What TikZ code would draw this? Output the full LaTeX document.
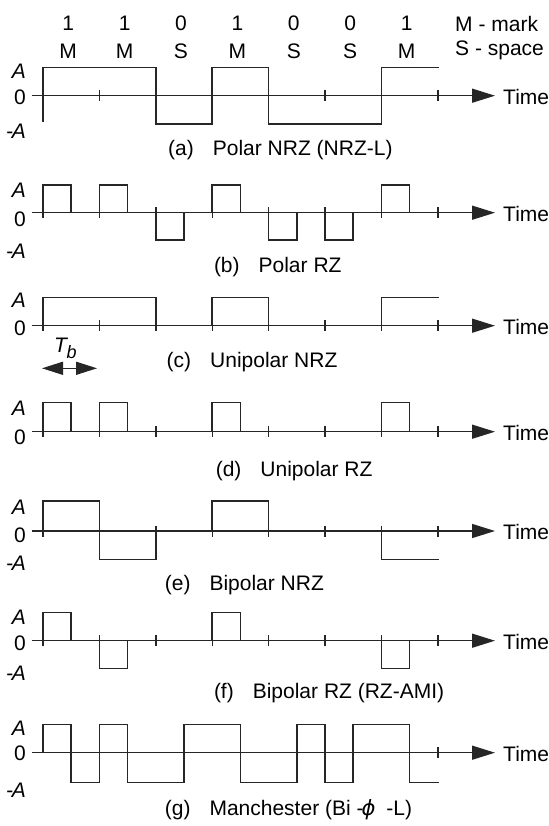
\documentclass[tikz,border=0pt]{standalone}
\usepackage{fontspec}
\setmainfont{Liberation Sans}
\newfontfamily\greekfont{DejaVu Sans}
\usetikzlibrary{arrows.meta}

% tick mark on the time axis: #1 = axis y, #2 = list of half-bit positions
\newcommand{\axticks}[2]{\foreach \k in {#2} \draw[tickmark] (\k,#1-5.5) -- (\k,#1+5.5);}
% half-bit return-to-zero pulse: #1 = start (half-bit index), #2 = axis y, #3 = level y
\newcommand{\rzpulse}[3]{\draw[sig] (#1,#2) -- (#1,#3) -- (#1+1,#3) -- (#1+1,#2);}

\begin{document}
\begin{tikzpicture}[x=1pt,y=-1pt,
  sig/.style={line width=1.5pt, draw=black!85, line join=miter, line cap=rect},
  tickmark/.style={line width=1.4pt, draw=black!85},
  axisline/.style={line width=1.4pt, draw=black!85, -{Triangle[length=23pt,width=14pt]}},
  dimarrow/.style={line width=1.4pt, draw=black!85,
    {Triangle[length=21pt,width=13pt]}-{Triangle[length=21pt,width=13pt]}},
  txt/.style={font=\fontsize{21}{24}\selectfont, inner sep=0pt, text=black},
  lvl/.style={txt, anchor=base east},
  captxt/.style={txt, anchor=base west},
  bitlbl/.style={txt, anchor=base},
  signal/.style={xshift=43pt, x=28.2pt},
]
\useasboundingbox (0,0) rectangle (548,826);

% ---------- bit sequence header ----------
\foreach \b/\s [count=\i from 0] in {1/M,1/M,0/S,1/M,0/S,0/S,1/M}{
  \node[bitlbl] (bit\i) at ({68.2+56.4*\i},31) {\b};
  \node[bitlbl] (sym\i) at ({68.2+56.4*\i},58.5) {\s};
}
\node[captxt] (keyM) at (455,31.5) {M - mark};
\node[captxt] (keyS) at (455,56) {S - space};

% ---------- time axes ----------
\foreach \name/\y in {a/95.7,b/212.7,c/325.7,d/431.7,e/531,f/640.7,g/752.7}{
  \coordinate (ax\name s) at (31.7,\y);
  \coordinate (ax\name e) at (495,\y);
  \draw[axisline] (ax\name s) -- (ax\name e);
  \node[captxt] (time\name) at (503,\y+8.5) {Time};
}

% ---------- (a) polar NRZ ----------
\begin{scope}[signal]
  \draw[sig] (0,121.7) -- (0,67.7) -- (4,67.7) -- (4,124) -- (6,124) -- (6,67.7)
    -- (8,67.7) -- (8,124) -- (12,124) -- (12,67.7) -- (14,67.7);
  \axticks{95.7}{2,10,14}
\end{scope}
\node[lvl] (aA) at (26,78.5) {\itshape A};
\node[lvl] (a0) at (26,105) {0};
\node[lvl] (aN) at (26,138.5) {-\kern-1.5pt\itshape A};
\node[captxt] (capa) at (168,155.5) {(a)\hspace{19pt}Polar NRZ (NRZ-L)};

% ---------- (b) polar RZ ----------
\begin{scope}[signal]
  \rzpulse{0}{212.7}{185}
  \rzpulse{2}{212.7}{185}
  \rzpulse{4}{212.7}{240}
  \rzpulse{6}{212.7}{185}
  \rzpulse{8}{212.7}{240}
  \rzpulse{10}{212.7}{240}
  \rzpulse{12}{212.7}{185}
  \axticks{212.7}{0,2,...,14}
\end{scope}
\node[lvl] (bA) at (26,197.5) {\itshape A};
\node[lvl] (b0) at (26,226.5) {0};
\node[lvl] (bN) at (26,258.5) {-\kern-1.5pt\itshape A};
\node[captxt] (capb) at (213.8,272.5) {(b)\hspace{19pt}Polar RZ};

% ---------- (c) unipolar NRZ ----------
\begin{scope}[signal]
  \draw[sig] (0,325.7) -- (0,297.3) -- (4,297.3) -- (4,325.7);
  \draw[sig] (6,325.7) -- (6,297.3) -- (8,297.3) -- (8,325.7);
  \draw[sig] (12,325.7) -- (12,297.3) -- (14,297.3);
  \axticks{325.7}{0,2,...,14}
\end{scope}
\node[lvl] (cA) at (26,307.5) {\itshape A};
\node[lvl] (c0) at (26,335.5) {0};
\node[captxt] (capc) at (166.5,367) {(c)\hspace{19pt}Unipolar NRZ};

% bit period marker
\node[txt, anchor=base west] (tb) at (54,352)
  {\itshape T\kern-0.5pt\raisebox{-6pt}{\fontsize{18}{20}\selectfont b}};
\coordinate (tbL) at (42,368.3);
\coordinate (tbR) at (97,368.3);
\draw[dimarrow] (tbL) -- (tbR);

% ---------- (d) unipolar RZ ----------
\begin{scope}[signal]
  \rzpulse{0}{431.7}{402.7}
  \rzpulse{2}{431.7}{402.7}
  \rzpulse{6}{431.7}{402.7}
  \rzpulse{12}{431.7}{402.7}
  \axticks{431.7}{0,2,...,14}
\end{scope}
\node[lvl] (dA) at (26,415.5) {\itshape A};
\node[lvl] (d0) at (26,444.2) {0};
\node[captxt] (capd) at (215.6,476.5) {(d)\hspace{19pt}Unipolar RZ};

% ---------- (e) bipolar NRZ ----------
\begin{scope}[signal]
  \draw[sig] (0,531) -- (0,501) -- (2,501) -- (2,559.3) -- (4,559.3) -- (4,531);
  \draw[sig] (6,531) -- (6,501) -- (8,501) -- (8,531);
  \draw[sig] (12,531) -- (12,559.3) -- (14,559.3);
  \axticks{531}{0,2,...,14}
\end{scope}
\node[lvl] (eA) at (26,514.2) {\itshape A};
\node[lvl] (e0) at (26,542.5) {0};
\node[lvl] (eN) at (26,570.5) {-\kern-1.5pt\itshape A};
\node[captxt] (cape) at (164.7,590.5) {(e)\hspace{19pt}Bipolar NRZ};

% ---------- (f) bipolar RZ (AMI) ----------
\begin{scope}[signal]
  \rzpulse{0}{640.7}{612.7}
  \rzpulse{2}{640.7}{668.3}
  \rzpulse{6}{640.7}{612.7}
  \rzpulse{12}{640.7}{668.3}
  \axticks{640.7}{0,2,...,14}
\end{scope}
\node[lvl] (fA) at (26,624.2) {\itshape A};
\node[lvl] (f0) at (26,650.5) {0};
\node[lvl] (fN) at (26,680.5) {-\kern-1.5pt\itshape A};
\node[captxt] (capf) at (213.8,698.5) {(f)\hspace{19pt}Bipolar RZ (RZ-AMI)};

% ---------- (g) Manchester ----------
\begin{scope}[signal]
  \draw[sig] (0,752.7) -- (0,724.3) -- (1,724.3) -- (1,782.7) -- (2,782.7)
    -- (2,724.3) -- (3,724.3) -- (3,782.7) -- (5,782.7) -- (5,724.3)
    -- (7,724.3) -- (7,782.7) -- (9,782.7) -- (9,724.3) -- (10,724.3)
    -- (10,782.7) -- (11,782.7) -- (11,724.3) -- (13,724.3) -- (13,782.7)
    -- (14,782.7);
  \axticks{752.7}{14}
\end{scope}
\node[lvl] (gA) at (26,735.5) {\itshape A};
\node[lvl] (g0) at (26,760.5) {0};
\node[lvl] (gN) at (26,797.5) {-\kern-1.5pt\itshape A};
\node[captxt] (capg) at (164.7,815.5)
  {(g)\hspace{19pt}Manchester (Bi -\kern-2pt{\greekfont\itshape ϕ}\hspace{11pt}-L)};

\end{tikzpicture}
\end{document}
